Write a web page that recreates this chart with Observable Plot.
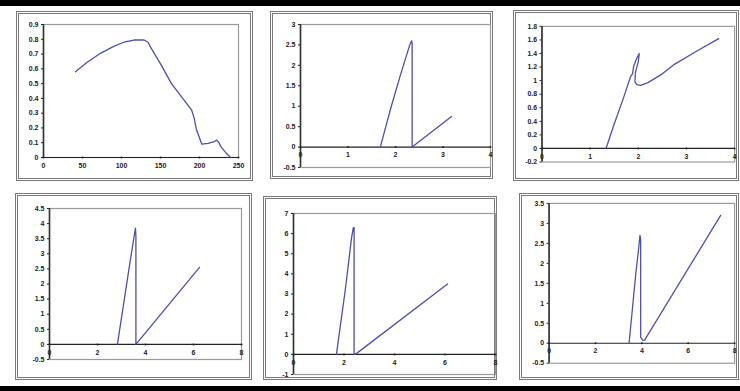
<!DOCTYPE html>
<html>
<head>
<meta charset="utf-8">
<script src="https://cdn.jsdelivr.net/npm/d3@7"></script>
<script src="https://cdn.jsdelivr.net/npm/@observablehq/plot@0.6"></script>
<style>
  html, body { margin: 0; padding: 0; background: #fff; }
  #page { position: relative; width: 740px; height: 391px; overflow: hidden; background: #fff; font-family: Arial, "Liberation Sans", sans-serif; }
  .bar { position: absolute; left: 0; width: 740px; background: #000; }
  .box { position: absolute; box-sizing: border-box; border: 3px double #7a7a7a; }
  .panel { position: absolute; }
  .panel svg { overflow: visible; }
</style>
</head>
<body>
<div id="page">
  <div class="bar" style="top:0;height:6px"></div>
  <div class="bar" style="top:386px;height:5px"></div>
</div>
<script>
// ---- data ----
const curve1 = [[41,0.58],[56,0.645],[73,0.705],[90,0.752],[103,0.78],[116,0.795],[129,0.795],[134,0.78],[138,0.74],[151,0.625],[164,0.5],[177,0.41],[190,0.32],[193,0.27],[196,0.19],[203,0.09],[211,0.095],[218,0.105],[222,0.118],[225,0.1],[228,0.068],[235,0.025],[240,0]];
const curve2 = [[1.68,0],[1.9,0.95],[2.1,1.75],[2.3,2.5],[2.34,2.6],[2.35,2.55],[2.35,0],[3.18,0.75]];
const curve3 = [[1.33,0],[1.5,0.36],[1.7,0.76],[1.84,1.06],[1.88,1.1],[1.9,1.2],[1.95,1.3],[2.02,1.4],[2.0,1.28],[1.94,1.12],[1.93,0.98],[1.97,0.94],[2.05,0.93],[2.2,0.97],[2.5,1.1],[2.75,1.24],[3.2,1.43],[3.67,1.62]];
const curve4 = [[2.83,0],[3.1,1.4],[3.35,2.7],[3.55,3.7],[3.58,3.85],[3.6,3.6],[3.6,0],[6.25,2.55]];
const curve5 = [[1.7,0],[2.05,3.2],[2.3,5.8],[2.37,6.3],[2.4,6.3],[2.4,0],[2.5,0.05],[6.1,3.5]];
const curve6 = [[3.45,0],[3.6,0.9],[3.75,1.8],[3.85,2.3],[3.92,2.7],[3.95,2.6],[3.95,0.15],[4.05,0.07],[4.12,0.08],[7.4,3.2]];

const xTicks1 = [0,50,100,150,200,250];
const yTicks1 = [0,0.1,0.2,0.3,0.4,0.5,0.6,0.7,0.8,0.9];
const xTicks2 = [0,1,2,3,4];
const yTicks2 = [-0.5,0,0.5,1,1.5,2,2.5,3];
const xTicks3 = [0,1,2,3,4];
const yTicks3 = [-0.2,0,0.2,0.4,0.6,0.8,1,1.2,1.4,1.6,1.8];
const xTicks4 = [0,2,4,6,8];
const yTicks4 = [-0.5,0,0.5,1,1.5,2,2.5,3,3.5,4,4.5];
const xTicks5 = [0,2,4,6,8];
const yTicks5 = [-1,0,1,2,3,4,5,6,7];
const xTicks6 = [0,2,4,6,8];
const yTicks6 = [-0.5,0,0.5,1,1.5,2,2.5,3,3.5];

// ---- layout ----
const boxes = [
  {l:16, t:11, w:237, h:170},
  {l:270, t:11, w:223, h:168},
  {l:513, t:10, w:226, h:171},
  {l:15, t:193, w:237, h:187},
  {l:263, t:196, w:234, h:184},
  {l:519, t:193, w:220, h:187}
];
const panels = [
  {data:curve1, px:[43,238], py:[24,157], xd:[0,250], yd:[0,0.9], xt:xTicks1, yt:yTicks1},
  {data:curve2, px:[300,490], py:[24,167], xd:[0,4], yd:[-0.5,3], xt:xTicks2, yt:yTicks2},
  {data:curve3, px:[542,738], py:[26,164], xd:[0,4], yd:[-0.2,1.8], xt:xTicks3, yt:yTicks3},
  {data:curve4, px:[49,241], py:[208,359], xd:[0,8], yd:[-0.5,4.5], xt:xTicks4, yt:yTicks4},
  {data:curve5, px:[293,495], py:[213,374], xd:[0,8], yd:[-1,7], xt:xTicks5, yt:yTicks5},
  {data:curve6, px:[549,737], py:[203,365], xd:[0,8], yd:[-0.5,3.5], xt:xTicks6, yt:yTicks6}
];

const page = document.getElementById("page");
for (const b of boxes) {
  const d = document.createElement("div");
  d.className = "box";
  Object.assign(d.style, {left:b.l+"px", top:b.t+"px", width:b.w+"px", height:b.h+"px"});
  page.appendChild(d);
}

const ml = 30, mr = 6, mt = 6, mb = 14;
const lineColor = "#4f4fae";
const fmt = d => String(d);
for (const p of panels) {
  const w = p.px[1] - p.px[0] + ml + mr;
  const h = p.py[1] - p.py[0] + mt + mb;
  const chart = Plot.plot({
    width: w, height: h,
    marginLeft: ml, marginRight: mr, marginTop: mt, marginBottom: mb,
    style: {fontFamily: "Arial, 'Liberation Sans', sans-serif", fontSize: "7px", fontWeight: "bold", color: "#222", background: "transparent"},
    x: {domain: p.xd, axis: null},
    y: {domain: p.yd, axis: null},
    marks: [
      Plot.frame({stroke: "#9a9a9a", strokeWidth: 1.2}),
      Plot.ruleY([0], {stroke: "#222", strokeWidth: 1.2}),
      Plot.ruleX([p.xd[0]], {stroke: "#333", strokeWidth: 1.6}),
      Plot.axisY({ticks: p.yt, tickFormat: fmt, tickSize: 2, tickPadding: 3, fontSize: 7, fontWeight: "bold", stroke: "#222", fill: "#222"}),
      Plot.dot(p.xt, {x: d => d, y: 0, r: 1, fill: "#222", stroke: null}),
      Plot.text(p.xt, {x: d => d, y: 0, dy: 8, text: fmt, fontSize: 7, fontWeight: "bold", fill: "#222"}),
      Plot.line(p.data, {x: d => d[0], y: d => d[1], stroke: lineColor, strokeWidth: 1.3, strokeLinejoin: "round"})
    ]
  });
  const wrap = document.createElement("div");
  wrap.className = "panel";
  wrap.style.left = (p.px[0] - ml) + "px";
  wrap.style.top = (p.py[0] - mt) + "px";
  wrap.appendChild(chart);
  page.appendChild(wrap);
}
</script>
</body>
</html>
